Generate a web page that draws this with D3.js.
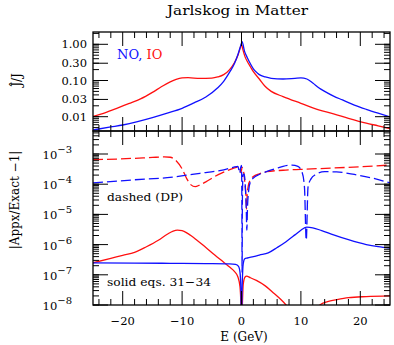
<!DOCTYPE html>
<html><head><meta charset="utf-8">
<script src="https://cdn.jsdelivr.net/npm/d3@7"></script>
<style>body{margin:0;background:#fff}</style>
</head><body><svg id="c" width="394" height="345"></svg>
<script>
// ---------- data ----------
const topTicks = [0.01, 0.03, 0.1, 0.3, 1];
const topTickLabels = ["0.01", "0.03", "0.10", "0.30", "1.00"];
const bottomExponents = [-3, -4, -5, -6, -7, -8];
const xMajorTicks = [-20, -10, 0, 10, 20];
const xTickLabels = ["\u221220", "\u221210", "0", "10", "20"];

// Top panel: J-hat / J
const eJNO = [-25,-22,-20,-17.5,-15,-12.5,-10,-8,-6,-4,-3,-2,-1.2,-0.6,-0.2,0.1,0.5,1,1.5,2,2.5,3,4,5,7,9,10,11,12,13,14,15.5,17,19,21,23,25];
const jNO  = [0.0043,0.0052,0.0059,0.0073,0.0094,0.0125,0.017,0.024,0.035,0.063,0.095,0.17,0.29,0.52,0.85,1.18,0.65,0.42,0.29,0.21,0.17,0.145,0.125,0.115,0.11,0.115,0.118,0.11,0.085,0.063,0.05,0.037,0.029,0.021,0.016,0.0125,0.0099];
const eJIO = [-25,-23,-21,-19,-17,-15,-13.5,-12,-11,-10,-9,-7,-5,-4,-3,-2,-1.2,-0.6,-0.2,0,0.2,0.6,1,1.5,2,3,4,5,7,10,13,15.5,18,21,23,25];
const jIO  = [0.0101,0.0128,0.017,0.023,0.031,0.047,0.067,0.092,0.108,0.118,0.12,0.114,0.116,0.125,0.145,0.2,0.31,0.5,0.8,1.0,0.75,0.45,0.33,0.24,0.175,0.11,0.068,0.05,0.036,0.0235,0.0155,0.012,0.009,0.0066,0.0056,0.0047];

// Bottom panel: |Appx/Exact - 1|
const eDashIO = [-25,-21,-18,-15,-13,-12,-11,-10,-9.2,-8.5,-7.8,-7,-6,-4.5,-3,-1.5,-0.8,-0.3,-0.1,0.1,0.3,0.55,0.75,0.85,0.95,1.15,1.5,2,3,4.2,7,10,15,20,25];
const dashIO  = [6.5e-4,6.8e-4,7.2e-4,7.7e-4,8.0e-4,7.8e-4,6.0e-4,3.2e-4,1.5e-4,9.5e-5,8.3e-5,9.5e-5,1.2e-4,1.8e-4,2.5e-4,3.3e-4,3.6e-4,3.6e-4,2.4e-4,3.6e-4,3.0e-4,1.2e-4,4e-5,1.5e-5,4e-5,9e-5,1.4e-4,1.8e-4,2.2e-4,2.6e-4,2.9e-4,3.1e-4,3.4e-4,3.8e-4,4.3e-4];
const eDashNO = [-25,-18,-12.5,-7,-3,-1.4,-0.6,-0.3,-0.15,0,0.06,0.1,0.15,0.25,0.45,0.65,0.8,0.9,1.0,1.2,1.5,2,3,4.2,6,7,8.5,9.5,10.2,10.6,10.9,11.2,11.7,12.5,14,16,19,22,25];
const dashNO  = [1.1e-4,1.4e-4,1.65e-4,2.3e-4,3.0e-4,3.6e-4,3.9e-4,2.3e-4,3.5e-4,4.2e-4,3e-5,1.2e-7,3e-5,2e-4,2.2e-4,8e-5,1.5e-5,3e-6,1.5e-5,6e-5,1.2e-4,1.6e-4,2.1e-4,2.6e-4,3.4e-4,3.9e-4,4.3e-4,3.9e-4,2.5e-4,8e-5,1.4e-6,8e-5,1.5e-4,2.1e-4,2.6e-4,2.55e-4,2.1e-4,1.6e-4,1.1e-4];
const eSolidIO = [-25,-22,-20,-18,-16,-14,-12.5,-11.5,-10.8,-10,-9,-7.5,-6,-4.5,-3,-2,-1.2,-0.6,-0.25,-0.1,0,0.1,0.3,0.6,0.85,1.5,2.5,4,5.5,6.5,7.5,9,11,12.5,13.2,14.5,16,18,21,25];
const solidIO  = [2.5e-7,3.5e-7,4.4e-7,5.5e-7,8.5e-7,1.4e-6,2.2e-6,2.8e-6,3.0e-6,2.9e-6,2.3e-6,1.4e-6,8e-7,4.5e-7,2.6e-7,1.8e-7,1.3e-7,8.5e-8,4e-8,1e-8,1e-9,5e-9,5e-8,8.5e-8,9e-8,8e-8,6.5e-8,4.3e-8,2.4e-8,1.6e-8,1.0e-8,4e-9,3e-9,6e-9,1.0e-8,1.3e-8,1.5e-8,1.75e-8,1.9e-8,2.0e-8];
const eSolidNO = [-25,-18,-12,-6,-2,-1,-0.5,-0.25,-0.1,0,0.1,0.3,0.55,1,2,3,4.5,6,7.5,9,10,11,12,13.5,15.5,18,21,23,25];
const solidNO  = [2.5e-7,2.45e-7,2.4e-7,2.35e-7,2.3e-7,2.2e-7,1.9e-7,1.2e-7,3e-8,1e-9,3e-8,2.4e-7,3.4e-7,3.6e-7,4e-7,4.5e-7,5.3e-7,8e-7,1.25e-6,2.1e-6,3e-6,3.8e-6,3.6e-6,2.9e-6,2.1e-6,1.45e-6,1e-6,8.5e-7,7.6e-7];

// ---------- layout ----------
const svg = d3.select("#c");
const L = 93, R = 390, T1 = 32, B1 = 131, T2 = 131, B2 = 305;
const BLUE = "#1010ff", RED = "#ff1010";
const FONT = "DejaVu Serif";

const x = d3.scaleLinear().domain([-25, 25]).range([L, R]);
const yTop = d3.scaleLog().domain([0.01, 1]).range([116.7, 44.3]);
const yBot = d3.scaleLog().domain([1e-8, 1e-3]).range([305, 154]);

const defs = svg.append("defs");
defs.append("clipPath").attr("id", "clipTop").append("rect")
  .attr("x", L).attr("y", T1).attr("width", R - L).attr("height", B1 - T1);
defs.append("clipPath").attr("id", "clipBot").append("rect")
  .attr("x", L).attr("y", T2).attr("width", R - L).attr("height", B2 - T2);

function drawLine(g, xs, ys, yScale, color, dashed) {
  const pts = xs.map((e, i) => [e, ys[i]]);
  g.append("path").datum(pts)
    .attr("fill", "none").attr("stroke", color).attr("stroke-width", 1.3)
    .attr("stroke-dasharray", dashed ? "10,4" : null)
    .attr("d", d3.line().x(d => x(d[0])).y(d => yScale(d[1])).curve(d3.curveMonotoneX));
}

const gTop = svg.append("g").attr("clip-path", "url(#clipTop)");
drawLine(gTop, eJIO, jIO, yTop, RED, false);
drawLine(gTop, eJNO, jNO, yTop, BLUE, false);

const gBot = svg.append("g").attr("clip-path", "url(#clipBot)");
drawLine(gBot, eDashIO, dashIO, yBot, RED, true);
drawLine(gBot, eDashNO, dashNO, yBot, BLUE, true);
drawLine(gBot, eSolidIO, solidIO, yBot, RED, false);
drawLine(gBot, eSolidNO, solidNO, yBot, BLUE, false);

// ---------- ticks ----------
const xMinor = d3.range(-24, 25, 2).filter(v => v % 10 !== 0);
function xTicks(yPos, dir) {
  const g = svg.append("g").attr("stroke", "#000").attr("stroke-width", 1);
  xMajorTicks.forEach(v => g.append("line").attr("x1", x(v)).attr("x2", x(v)).attr("y1", yPos).attr("y2", yPos + dir * 14));
  xMinor.forEach(v => g.append("line").attr("x1", x(v)).attr("x2", x(v)).attr("y1", yPos).attr("y2", yPos + dir * 6));
}
xTicks(T1, 1); xTicks(B1, -1); xTicks(T2, 1); xTicks(B2, -1);

function yTicks(scale, majors, top, bottom) {
  const g = svg.append("g").attr("stroke", "#000").attr("stroke-width", 1);
  const lo = Math.floor(Math.log10(scale.invert(bottom))), hi = Math.ceil(Math.log10(scale.invert(top)));
  const minors = [];
  for (let e = lo; e <= hi; e++) for (let m = 1; m <= 9; m++) minors.push(m * Math.pow(10, e));
  minors.filter(v => scale(v) >= top && scale(v) <= bottom).forEach(v => {
    const yy = scale(v);
    g.append("line").attr("x1", L).attr("x2", L + 6).attr("y1", yy).attr("y2", yy);
    g.append("line").attr("x1", R).attr("x2", R - 6).attr("y1", yy).attr("y2", yy);
  });
  majors.forEach(v => {
    const yy = scale(v);
    g.append("line").attr("x1", L).attr("x2", L + 15).attr("y1", yy).attr("y2", yy);
    g.append("line").attr("x1", R).attr("x2", R - 15).attr("y1", yy).attr("y2", yy);
  });
}
yTicks(yTop, topTicks, T1, B1);
yTicks(yBot, bottomExponents.map(e => Math.pow(10, e)), T2, B2);

svg.append("rect").attr("x", L).attr("y", T1).attr("width", R - L).attr("height", B1 - T1)
  .attr("fill", "none").attr("stroke", "#000").attr("stroke-width", 1.3);
svg.append("rect").attr("x", L).attr("y", T2).attr("width", R - L).attr("height", B2 - T2)
  .attr("fill", "none").attr("stroke", "#000").attr("stroke-width", 1.3);

// ---------- text ----------
const txt = svg.append("g").attr("font-family", FONT).attr("fill", "#000");
txt.append("text").attr("x", 167).attr("y", 15)
  .attr("font-size", 13.5).attr("textLength", 141).attr("lengthAdjust", "spacingAndGlyphs")
  .text("Jarlskog in Matter");

topTicks.forEach((v, i) => txt.append("text").attr("x", 87).attr("y", yTop(v) + 4)
  .attr("text-anchor", "end").attr("font-size", 11.5).text(topTickLabels[i]));

bottomExponents.forEach(e => {
  const t = txt.append("text").attr("x", 72).attr("y", yBot(Math.pow(10, e)) + 5)
    .attr("text-anchor", "end").attr("font-size", 11.5);
  t.append("tspan").text("10");
  t.append("tspan").attr("dy", -6).attr("font-size", 10).text("\u2212" + (-e));
});

xMajorTicks.forEach((v, i) => txt.append("text").attr("x", x(v)).attr("y", 325)
  .attr("text-anchor", "middle").attr("font-size", 11.5).text(xTickLabels[i]));

txt.append("text").attr("x", 244).attr("y", 341).attr("text-anchor", "middle")
  .attr("font-size", 12).text("E (GeV)");

txt.append("text").attr("transform", "translate(21,80) rotate(-90)").attr("text-anchor", "middle")
  .attr("font-size", 12).text("\u0134/J");
txt.append("text").attr("transform", "translate(19,200) rotate(-90)").attr("text-anchor", "middle")
  .attr("font-size", 12).text("|Appx/Exact \u22121|");

const leg = txt.append("text").attr("x", 117).attr("y", 59).attr("font-size", 13);
leg.append("tspan").attr("fill", BLUE).text("NO, ");
leg.append("tspan").attr("fill", RED).text("IO");

txt.append("text").attr("x", 107).attr("y", 201).attr("font-size", 11.5)
  .attr("textLength", 76).attr("lengthAdjust", "spacingAndGlyphs").text("dashed (DP)");
txt.append("text").attr("x", 107).attr("y", 286).attr("font-size", 11.5)
  .attr("textLength", 104).attr("lengthAdjust", "spacingAndGlyphs").text("solid eqs. 31\u221234");
</script></body></html>
